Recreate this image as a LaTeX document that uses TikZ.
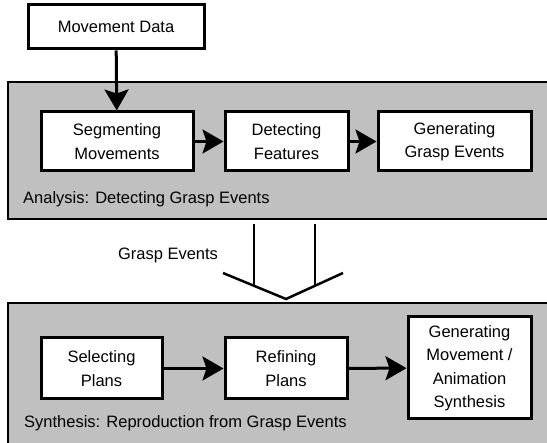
\documentclass[tikz,border=0pt]{standalone}
\usepackage{fontspec}
\setmainfont{Liberation Sans}
\usetikzlibrary{arrows.meta}
\definecolor{panelgray}{HTML}{C0C0C0}
\begin{document}
\begin{tikzpicture}[x=1pt,y=-1pt,
  procbox/.style={draw=black, fill=white, line width=3pt, align=center, inner sep=0pt,
    font=\fontsize{16.5}{23.5}\selectfont},
  flow/.style={line width=3pt, -{Stealth[length=21pt,width=24pt,inset=4pt]}},
  panel/.style={fill=panelgray, draw=black, line width=2pt},
  plabel/.style={anchor=west, inner sep=0pt, font=\fontsize{16.5}{20}\selectfont},
  bigarrow/.style={line width=2.5pt, line join=miter}]
\useasboundingbox (0,0) rectangle (547,443);
\begin{scope}
  \clip (0,0) rectangle (547,443);
  \path[panel] (8,82) rectangle (570,219);
  \path[panel] (8,303) rectangle (570,460);
\end{scope}

\node[procbox, minimum width=176pt, minimum height=44pt] (md) at (116,27) {Movement Data};

\node[procbox, minimum width=152pt, minimum height=59pt] (seg) at (117,141.5) {Segmenting\\Movements};
\node[procbox, minimum width=123pt, minimum height=59pt] (det) at (286.5,141.5) {Detecting\\Features};
\node[procbox, minimum width=153pt, minimum height=59pt] (gge) at (454.5,141.5) {Generating\\Grasp Events};
\node[plabel] (lab1) at (23,199) {Analysis: Detecting Grasp Events};

\node[procbox, minimum width=121pt, minimum height=61pt] (sel) at (101.5,368.5) {Selecting\\Plans};
\node[procbox, minimum width=122pt, minimum height=61pt] (ref) at (286,368.5) {Refining\\Plans};
\node[procbox, minimum width=123pt, minimum height=102pt] (gms) at (469.5,368) {Generating\\Movement /\\Animation\\Synthesis};
\node[plabel] (lab2) at (24,423) {Synthesis: Reproduction from Grasp Events};

\draw[flow] (md) -- (seg);
\draw[flow] (seg) -- (det);
\draw[flow] (det) -- (gge);
\draw[flow] (sel) -- (ref);
\draw[flow] (ref) -- (gms);

\coordinate (bl) at (254,224);
\coordinate (br) at (315,224);
\coordinate (cl) at (223,273);
\coordinate (tip) at (286,299);
\coordinate (cr) at (343,273);
\draw[bigarrow] (bl) -- (254,285.8);
\draw[bigarrow] (br) -- (315,285.8);
\draw[bigarrow] (cl) -- (tip) -- (cr);
\node[font=\fontsize{16.5}{20}\selectfont, inner sep=0pt] (ge) at (168,255) {Grasp Events};
\end{tikzpicture}
\end{document}
